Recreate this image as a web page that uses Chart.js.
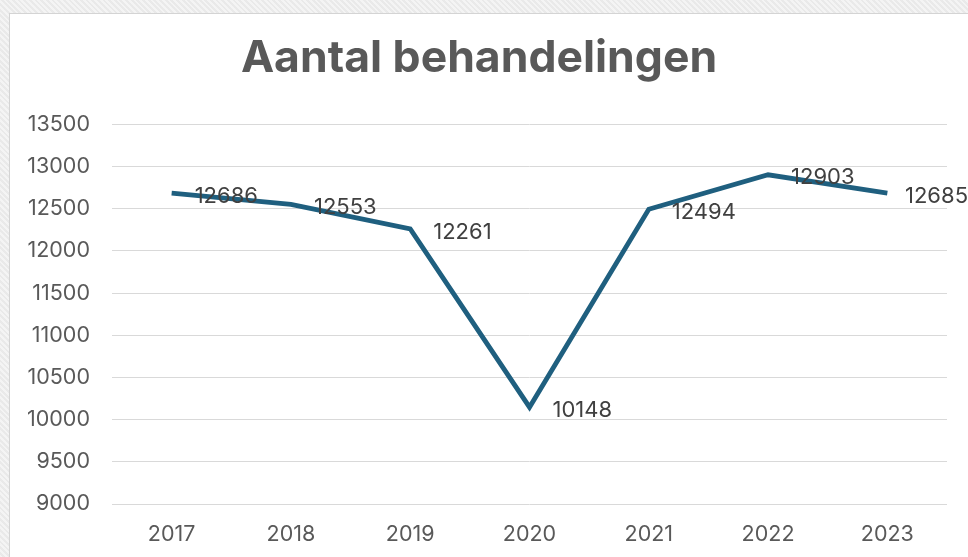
<!DOCTYPE html>
<html>
<head>
<meta charset="utf-8">
<script src="https://cdn.jsdelivr.net/npm/chart.js@4"></script>
<style>
  html, body { margin: 0; padding: 0; }
  body {
    width: 968px; height: 557px; overflow: hidden; position: relative;
    background-color: #eeeeee;
    background-image: repeating-linear-gradient(45deg, rgba(255,255,255,0.35) 0 2px, rgba(0,0,0,0.02) 2px 4px);
  }
  #box {
    position: absolute; left: 9px; top: 13px; width: 970px; height: 560px;
    background: #ffffff; border: 1px solid #d4d4d4; box-sizing: border-box;
  }
  #wrap { position: absolute; left: 1px; top: 1px; width: 958px; height: 543px; }
</style>
</head>
<body>
<div id="box"><div id="wrap"><canvas id="c"></canvas></div></div>
<script>
const categories = ['2017', '2018', '2019', '2020', '2021', '2022', '2023'];
const behandelingen = [12686, 12553, 12261, 10148, 12494, 12903, 12685];
const titleText = 'Aantal behandelingen';
const yMin = 9000, yMax = 13500, yStep = 500;

const FONT = 'Inter, "Liberation Sans", Arial, sans-serif';

const labelPlugin = {
  id: 'pointLabels',
  afterDatasetsDraw(chart) {
    const ctx = chart.ctx;
    const meta = chart.getDatasetMeta(0);
    ctx.save();
    ctx.font = '22px ' + FONT;
    ctx.fillStyle = '#404040';
    ctx.textAlign = 'left';
    ctx.textBaseline = 'middle';
    meta.data.forEach((pt, i) => {
      const txt = String(behandelingen[i]);
      const w = ctx.measureText(txt).width;
      let x = pt.x + 23;
      if (x + w > chart.width - 1) x = chart.width - 1 - w;
      ctx.fillText(txt, x, pt.y + 3);
    });
    ctx.restore();
  }
};

new Chart(document.getElementById('c'), {
  type: 'line',
  data: {
    labels: categories,
    datasets: [{
      data: behandelingen,
      borderColor: '#1f5f7f',
      borderWidth: 4.8,
      pointRadius: 0,
      tension: 0,
      fill: false,
      clip: false
    }]
  },
  options: {
    responsive: true,
    maintainAspectRatio: false,
    animation: false,
    layout: { padding: { left: 0, right: 22, top: 0, bottom: 10 } },
    plugins: {
      legend: { display: false },
      tooltip: { enabled: false },
      title: {
        display: true,
        text: titleText,
        color: '#595959',
        font: { family: FONT, size: 44.5, weight: 'bold' },
        padding: { top: 17, bottom: 39 }
      }
    },
    scales: {
      x: {
        offset: true,
        afterFit(scale) { scale.height = 44; },
        grid: { display: false, drawTicks: false },
        border: { display: false },
        ticks: { color: '#595959', font: { family: FONT, size: 21.5 }, padding: 18 }
      },
      y: {
        min: yMin, max: yMax,
        afterFit(scale) { scale.width = 101; },
        grid: { color: '#d9d9d9', lineWidth: 1, drawTicks: false },
        border: { display: false },
        ticks: {
          stepSize: yStep, color: '#595959', font: { family: FONT, size: 21.5 }, padding: 22,
          callback: (v) => String(v)
        }
      }
    }
  },
  plugins: [labelPlugin]
});
</script>
</body>
</html>
